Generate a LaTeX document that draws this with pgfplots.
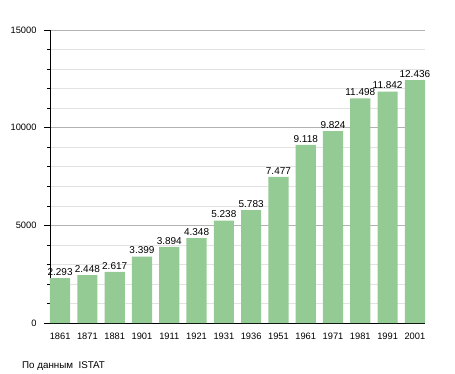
\documentclass[border=0pt]{standalone}
\usepackage{pgfplots}
\pgfplotsset{compat=1.18}
\usepackage{fontspec}
\setmainfont{Liberation Sans}
\definecolor{bargreen}{RGB}{148,202,148}
\definecolor{majgrid}{RGB}{178,178,178}
\definecolor{mingrid}{RGB}{226,226,226}
\begin{document}
\begin{tikzpicture}
\useasboundingbox (0,0) rectangle (455pt,373pt);
\begin{axis}[
  at={(50pt,50pt)}, anchor=south west,
  scale only axis, width=375pt, height=293pt,
  xmin=-0.37, xmax=13.37, ymin=0, ymax=15000,
  axis x line*=bottom, axis y line*=left,
  axis line style={black, line width=0.8pt, -},
  xtick={0,...,13},
  xticklabels={1861,1871,1881,1901,1911,1921,1931,1936,1951,1961,1971,1981,1991,2001},
  x tick style={draw=none},
  ytick={0,5000,10000,15000},
  minor y tick num=4,
  y tick style={black, line width=0.6pt},
  tick align=outside, major tick length=6pt, minor tick length=3pt,
  ymajorgrids, yminorgrids,
  major grid style={majgrid, line width=0.6pt},
  minor grid style={mingrid, line width=0.6pt},
  yticklabel style={/pgf/number format/1000 sep={}, /pgf/number format/assume math mode=true, xshift=-4pt},
  xticklabel style={/pgf/number format/assume math mode=true},
  tick label style={font=\fontsize{9.3}{10}\selectfont},
  scaled y ticks=false,
  ybar, bar width=0.74,
  point meta=explicit symbolic,
  nodes near coords,
  nodes near coords style={font=\fontsize{10}{10}\selectfont, inner sep=2.5pt, text=black},
]
\addplot[fill=bargreen, draw=none] coordinates {
 (0,2293) [2.293]
 (1,2448) [2.448]
 (2,2617) [2.617]
 (3,3399) [3.399]
 (4,3894) [3.894]
 (5,4348) [4.348]
 (6,5238) [5.238]
 (7,5783) [5.783]
 (8,7477) [7.477]
 (9,9118) [9.118]
 (10,9824) [9.824]
 (11,11498) [11.498]
 (12,11842) [11.842]
 (13,12436) [12.436]
};
\end{axis}
\node[anchor=base west, font=\fontsize{9.8}{10}\selectfont, inner sep=0pt] at (22pt,5pt) {По данным\ \ ISTAT};
\end{tikzpicture}
\end{document}
